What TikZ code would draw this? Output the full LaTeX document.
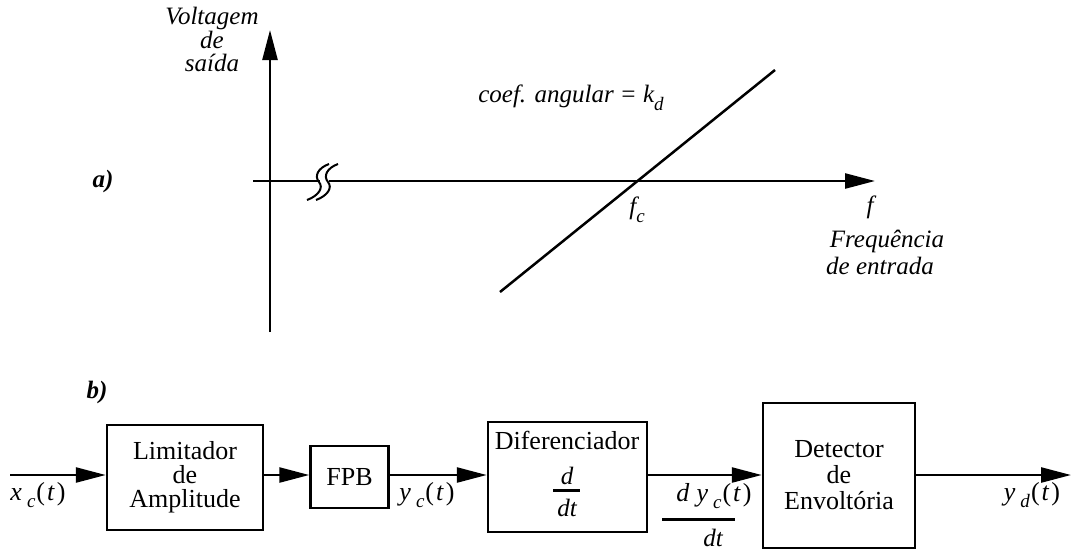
\documentclass[tikz,border=0pt]{standalone}
\usepackage{fontspec}
\setmainfont{Liberation Serif}
\usetikzlibrary{arrows.meta}
\newcommand{\sg}[2]{\textit{#1}\hspace{5pt}\raisebox{-0.3em}{\fontsize{19}{19}\selectfont\textit{#2}}\hspace{1pt}(\hspace{2pt}\textit{t}\hspace{2pt})}
\begin{document}
\begin{tikzpicture}[x=1pt,y=-1pt,
  ln/.style={line width=2.5pt},
  arr/.style={line width=2.5pt,-{Triangle[length=30pt,width=15pt]}},
  blk/.style={draw,line width=2.5pt,inner sep=0pt,align=center,font=\fontsize{26}{24}\selectfont},
  txt/.style={inner sep=0pt,align=center,font=\fontsize{26}{24}\selectfont},
  lbl/.style={inner sep=0pt,align=center,font=\fontsize{25}{23}\selectfont\itshape},
  brk/.style={line width=2pt},
]
\useasboundingbox (0,0) rectangle (1076,550);
% ---------- part a ----------
\coordinate (vb) at (270,332);
\coordinate (vt) at (270,30);
\coordinate (hl) at (253,181);
\coordinate (hg1) at (320,181);
\coordinate (hg2) at (329,181);
\coordinate (hr) at (875,181);
\draw[arr] (vb) -- (vt);
\draw[ln] (hl) -- (hg1);
\draw[arr] (hg2) -- (hr);
\draw[brk] (329,164) .. controls (318,168) and (314,176) .. (319,182) .. controls (324,188) and (318,196) .. (307,200);
\draw[brk] (338,164) .. controls (327,168) and (323,176) .. (328,182) .. controls (333,188) and (327,196) .. (316,200);
\coordinate (d1) at (500,292);
\coordinate (d2) at (775,70);
\draw[ln] (d1) -- (d2);
\node[lbl] (v1) at (212,18) {Voltagem};
\node[lbl] (v2) at (212,40) {de};
\node[lbl] (v3) at (212,63) {saída};
\node[lbl,font=\fontsize{25}{23}\selectfont\bfseries\itshape] (la) at (103,181) {a)};
\node[lbl] (coef) at (571,98) {coef. angular = k\raisebox{-0.3em}{\fontsize{19}{19}\selectfont d}};
\node[lbl] (fc) at (637,210) {f\raisebox{-0.3em}{\fontsize{19}{19}\selectfont c}};
\node[lbl] (ff) at (870,207) {f};
\node[lbl] (fr1) at (887,241) {Frequência};
\node[lbl] (fr2) at (880,266) {de entrada};
% ---------- part b ----------
\node[lbl,font=\fontsize{25}{23}\selectfont\bfseries\itshape] (lb) at (97,392) {b)};
\coordinate (in) at (10,475);
\coordinate (out) at (1071,475);
\node[blk,minimum width=156pt,minimum height=105pt] (lim) at (185,477.5) {Limitador\\de\\Amplitude};
\node[blk,minimum width=78pt,minimum height=62pt] (fpb) at (349.5,477) {FPB};
\node[blk,minimum width=159pt,minimum height=110pt] (dif) at (567.5,477) {};
\node[blk,minimum width=152pt,minimum height=145pt,font=\fontsize{26}{26}\selectfont] (det) at (839,475.5) {Detector\\de\\Envoltória};
\node[txt] (diftxt) at (567,440) {Diferenciador};
\node[lbl] (dnum) at (567,476) {d};
\node[lbl] (dden) at (567,508) {dt};
\draw[line width=3pt] (553,490) -- (580,490);
\draw[arr] (in) -- (in -| lim.west);
\draw[arr] (lim.east |- 0,475) -- (fpb.west |- 0,475);
\draw[arr] (fpb.east |- 0,475) -- (dif.west |- 0,475);
\draw[arr] (dif.east |- 0,475) -- (det.west |- 0,475);
\draw[arr] (det.east |- 0,475) -- (out);
\node[txt] (xc) at (38,495) {\sg{x}{c}};
\node[txt] (yc) at (427,495) {\sg{y}{c}};
\node[txt] (dyn) at (714,496) {\textit{d}\hspace{7pt}\sg{y}{c}};
\draw[line width=3pt] (662,519) -- (735,519);
\node[lbl] (dyd) at (713,538) {dt};
\node[txt] (yd) at (1032,495) {\sg{y}{d}};
\end{tikzpicture}
\end{document}
